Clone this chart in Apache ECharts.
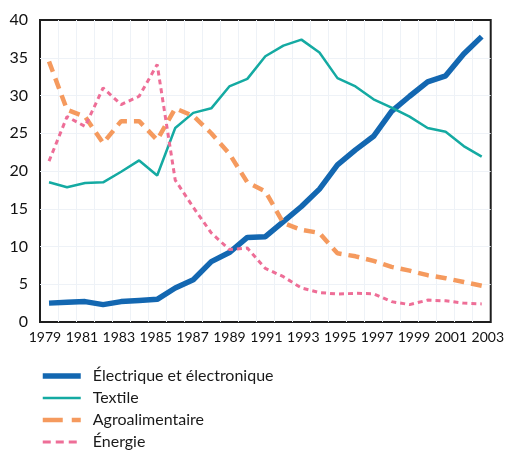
<!DOCTYPE html>
<html>
<head>
<meta charset="utf-8">
<script src="https://cdn.jsdelivr.net/npm/echarts@6/dist/echarts.min.js"></script>
<style>
html,body{margin:0;padding:0;background:#fff;}
#chart{width:507px;height:450px;}
</style>
</head>
<body>
<div id="chart"></div>
<script>
var years = ['1979','1980','1981','1982','1983','1984','1985','1986','1987','1988','1989','1990','1991','1992','1993','1994','1995','1996','1997','1998','1999','2000','2001','2002','2003'];
var xTickLabels = [1979,1981,1983,1985,1987,1989,1991,1993,1995,1997,1999,2001,2003];
var electrique = [2.5,2.6,2.7,2.3,2.7,2.85,3.0,4.5,5.6,8.0,9.2,11.2,11.3,13.3,15.3,17.6,20.8,22.8,24.6,27.9,29.9,31.8,32.6,35.5,37.8];
var textile = [18.5,17.85,18.4,18.5,19.9,21.4,19.4,25.7,27.7,28.3,31.2,32.2,35.2,36.6,37.4,35.7,32.3,31.2,29.5,28.4,27.2,25.7,25.2,23.3,21.9];
var agro = [34.5,28.1,27.2,23.7,26.6,26.6,24.1,28.3,27.3,25.0,22.3,18.5,17.3,13.1,12.2,11.8,9.1,8.7,8.1,7.3,6.8,6.2,5.8,5.3,4.8];
var energie = [21.3,27.2,25.9,31.0,28.8,29.9,34.1,18.8,15.2,11.8,9.6,9.8,7.1,6.0,4.5,3.9,3.7,3.8,3.75,2.7,2.3,2.9,2.8,2.5,2.4];
var names = ['Électrique et électronique','Textile','Agroalimentaire','Énergie'];

var FONT = 'Lato, "Open Sans", sans-serif';
var chart = echarts.init(document.getElementById('chart'), null, {renderer:'canvas'});
var hidden = {opacity: 0};
var option = {
  animation: false,
  backgroundColor: '#ffffff',
  grid: {left: 40, right: 14, top: 20, bottom: 128, show: true, borderColor: '#1e1e1e', borderWidth: 2, backgroundColor: 'transparent'},
  xAxis: [
    {type: 'category', data: years, boundaryGap: true, position: 'bottom',
     axisLabel: {show: false}, axisTick: {show: false, interval: 0}, axisLine: {show: false},
     splitLine: {show: true, interval: 0, showMinLine: false, showMaxLine: false, lineStyle: {color: '#eef2f7', width: 1}}},
    {type: 'value', min: 1978.73, max: 2003.16, position: 'bottom',
     axisLine: {show: false}, axisTick: {show: false}, splitLine: {show: false},
     axisLabel: {customValues: xTickLabels, formatter: function(v){return String(v);}, fontSize: 14, fontFamily: FONT, color: '#111', margin: 8}}
  ],
  yAxis: {type: 'value', min: 0, max: 40, interval: 5,
    axisLine: {show: false}, axisTick: {show: false},
    axisLabel: {fontSize: 16, fontFamily: FONT, color: '#111', margin: 12},
    splitLine: {show: true, showMinLine: false, showMaxLine: false, lineStyle: {color: '#eef2f7', width: 1}}},
  legend: {
    orient: 'vertical', left: 40, top: 368, padding: 0, itemGap: 6,
    itemWidth: 38, itemHeight: 14,
    itemStyle: {opacity: 0},
    textStyle: {fontSize: 16, fontFamily: FONT, color: '#1a1a1a', lineHeight: 16, padding: [0,0,0,7]},
    data: [
      {name: names[0], itemStyle: hidden, lineStyle: {width: 5.5, type: 'solid'}},
      {name: names[1], itemStyle: hidden, lineStyle: {width: 2.5, type: 'solid'}},
      {name: names[2], itemStyle: hidden, lineStyle: {width: 4.5, type: [20, 9]}},
      {name: names[3], itemStyle: hidden, lineStyle: {width: 3, type: [8, 5]}}
    ]
  },
  series: [
    {name: names[0], type: 'line', xAxisIndex: 0, data: electrique, symbol: 'none', color: '#1367b1',
     lineStyle: {width: 5.5, color: '#1367b1'}},
    {name: names[1], type: 'line', xAxisIndex: 0, data: textile, symbol: 'none', color: '#14aaa2',
     lineStyle: {width: 2.5, color: '#14aaa2'}},
    {name: names[2], type: 'line', xAxisIndex: 0, data: agro, symbol: 'none', color: '#f59a5e',
     lineStyle: {width: 4.5, color: '#f59a5e', type: [11, 7]}},
    {name: names[3], type: 'line', xAxisIndex: 0, data: energie, symbol: 'none', color: '#ee6e97',
     lineStyle: {width: 3, color: '#ee6e97', type: [5, 4]}}
  ]
};
chart.setOption(option);
</script>
</body>
</html>
